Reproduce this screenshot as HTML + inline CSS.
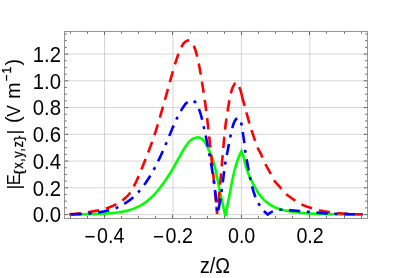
<!DOCTYPE html>
<html><head><meta charset="utf-8"><title>plot</title>
<style>html,body{margin:0;padding:0;background:#fff;}body{width:398px;height:278px;overflow:hidden;font-family:"Liberation Sans",sans-serif;}svg{display:block;will-change:transform;}</style>
</head><body>
<svg width="398" height="278" viewBox="0 0 398 278"><rect width="398" height="278" fill="#fff"/><path d="M104.52 31.4V218.4M172.97 31.4V218.4M241.42 31.4V218.4M309.87 31.4V218.4M64.55 214.56H367.4M64.55 187.81H367.4M64.55 161.06H367.4M64.55 134.30H367.4M64.55 107.55H367.4M64.55 80.80H367.4M64.55 54.05H367.4" stroke="#c4c4c4" stroke-width="0.7" fill="none"/><g fill="none" stroke-width="2.6" stroke-linejoin="miter" stroke-linecap="butt"><path d="M69.00 214.50L71.10 214.48L73.20 214.46L75.29 214.43L77.39 214.40L79.49 214.36L81.58 214.31L83.68 214.26L85.78 214.21L87.87 214.16L89.97 214.10L92.07 214.04L94.16 213.98L96.26 213.90L98.36 213.82L100.46 213.74L102.55 213.64L104.65 213.53L106.74 213.41L108.83 213.28L110.92 213.13L113.01 212.95L115.11 212.73L117.20 212.48L119.29 212.18L121.37 211.86L123.42 211.50L125.45 211.11L127.48 210.63L129.51 210.05L131.53 209.39L133.53 208.65L135.50 207.85L137.43 206.99L139.31 206.10L141.13 205.17L142.91 204.12L144.66 202.95L146.36 201.68L148.03 200.34L149.64 198.96L151.20 197.55L152.71 196.13L154.16 194.64L155.57 193.09L156.95 191.49L158.29 189.85L159.60 188.20L160.89 186.54L162.16 184.87L163.40 183.19L164.63 181.49L165.83 179.76L167.01 178.02L168.17 176.27L169.31 174.51L170.43 172.74L171.53 170.96L172.60 169.15L173.64 167.33L174.66 165.50L175.66 163.66L176.67 161.81L177.68 159.97L178.71 158.15L179.75 156.32L180.78 154.49L181.81 152.65L182.86 150.83L183.95 149.04L185.09 147.30L186.29 145.56L187.52 143.78L188.84 142.09L190.27 140.60L191.87 139.39L193.74 138.33L195.72 137.65L197.81 137.30L199.89 137.71L201.67 138.61L203.16 140.07L204.48 141.86L205.64 143.62L206.67 145.42L207.61 147.30L208.49 149.23L209.34 151.17L210.20 153.09L211.03 155.01L211.83 156.96L212.55 158.92L213.20 160.91L213.81 162.92L214.38 164.94L214.89 166.97L215.36 169.02L215.80 171.07L216.24 173.12L216.67 175.17L217.09 177.23L217.50 179.29L217.91 181.34L218.32 183.40L218.73 185.46L219.15 187.51L219.58 189.56L220.01 191.62L220.46 193.67L220.90 195.72L221.35 197.76L221.80 199.81L222.25 201.86L222.70 203.91L223.15 205.96L223.60 208.01L224.05 210.06L224.50 212.10L224.95 214.15L225.40 216.20L225.50 215.64L225.61 215.09L225.71 214.53L225.81 213.97L225.92 213.42L226.02 212.86L226.13 212.31L226.23 211.75L226.34 211.19L226.44 210.64L226.55 210.08L226.65 209.52L226.76 208.97L226.86 208.41L226.97 207.86L227.07 207.30L227.18 206.74L227.29 206.19L227.39 205.63L227.50 205.08L227.61 204.52L227.71 203.97L227.82 203.41L227.93 202.85L228.03 202.30L228.14 201.74L228.25 201.19L228.36 200.63L228.46 200.08L228.57 199.52L228.68 198.96L228.79 198.41L228.90 197.85L229.01 197.30L229.12 196.74L229.23 196.19L229.33 195.63L229.44 195.08L229.55 194.52L229.66 193.97L229.77 193.41L229.88 192.85L229.98 192.30L230.09 191.74L230.20 191.19L230.30 190.63L230.41 190.07L230.51 189.52L230.62 188.96L230.73 188.40L230.83 187.85L230.94 187.29L231.05 186.73L231.15 186.18L231.26 185.62L231.37 185.06L231.47 184.51L231.58 183.95L231.69 183.40L231.80 182.84L231.91 182.29L232.02 181.73L232.14 181.18L232.25 180.62L232.36 180.07L232.48 179.51L232.59 178.96L232.71 178.40L232.83 177.85L232.95 177.30L233.07 176.75L233.19 176.19L233.31 175.64L233.44 175.09L233.56 174.54L233.69 173.99L233.82 173.44L233.95 172.89L234.09 172.34L234.22 171.79L234.36 171.24L234.50 170.70L234.63 170.15L234.78 169.60L234.92 169.05L235.06 168.50L235.21 167.95L235.36 167.40L235.51 166.86L235.66 166.31L235.82 165.76L235.97 165.22L236.13 164.67L236.29 164.13L236.46 163.59L236.63 163.05L236.80 162.51L236.97 161.97L237.14 161.43L237.32 160.90L237.50 160.36L237.68 159.83L237.87 159.30L238.06 158.77L238.26 158.24L238.47 157.72L238.67 157.19L238.89 156.67L239.11 156.15L239.33 155.63L239.56 155.11L239.79 154.59L240.02 154.07L240.26 153.56L240.50 153.04L240.75 152.53L241.00 152.02L241.25 151.51L241.50 151.00L241.97 152.23L242.42 153.46L242.85 154.70L243.26 155.94L243.63 157.19L243.96 158.46L244.26 159.73L244.55 161.01L244.83 162.30L245.13 163.57L245.47 164.84L245.82 166.10L246.19 167.35L246.58 168.61L246.99 169.86L247.41 171.10L247.85 172.33L248.31 173.55L248.80 174.77L249.31 175.98L249.83 177.18L250.37 178.37L250.92 179.56L251.50 180.74L252.08 181.91L252.68 183.08L253.29 184.24L253.91 185.39L254.55 186.53L255.20 187.68L255.84 188.82L256.49 189.97L257.15 191.11L257.84 192.22L258.55 193.31L259.30 194.37L260.08 195.42L260.90 196.45L261.75 197.47L262.63 198.46L263.54 199.41L264.47 200.33L265.43 201.19L266.42 202.03L267.46 202.84L268.52 203.63L269.62 204.38L270.73 205.09L271.86 205.75L273.01 206.36L274.18 206.93L275.37 207.47L276.60 207.98L277.83 208.44L279.08 208.87L280.33 209.23L281.58 209.57L282.84 209.89L284.11 210.20L285.39 210.49L286.68 210.77L287.97 211.03L289.26 211.28L290.56 211.51L291.86 211.72L293.16 211.91L294.46 212.09L295.75 212.25L297.05 212.41L298.35 212.55L299.65 212.69L300.96 212.82L302.26 212.94L303.57 213.06L304.88 213.16L306.19 213.26L307.50 213.35L308.80 213.43L310.11 213.51L311.42 213.57L312.73 213.64L314.03 213.70L315.34 213.76L316.65 213.82L317.96 213.87L319.27 213.93L320.58 213.97L321.89 214.02L323.20 214.06L324.51 214.10L325.82 214.13L327.13 214.16L328.44 214.19L329.75 214.21L331.06 214.23L332.37 214.25L333.68 214.26L334.99 214.28L336.30 214.30L337.61 214.32L338.92 214.34L340.23 214.35L341.54 214.37L342.85 214.38L344.16 214.40L345.47 214.41L346.78 214.42L348.09 214.43L349.40 214.44L350.71 214.45L352.02 214.46L353.33 214.47L354.64 214.48L355.95 214.49L357.26 214.49L358.57 214.49L359.88 214.50L361.19 214.50L362.50 214.50" stroke="#00ff00"/><path d="M69.00 214.10L71.06 214.04L73.12 213.94L75.17 213.80L77.23 213.64L79.27 213.47L81.31 213.26L83.35 213.00L85.39 212.68L87.42 212.33L89.45 211.97L91.48 211.61L93.51 211.26L95.54 210.90L97.57 210.52L99.59 210.11L101.59 209.65L103.57 209.15L105.55 208.57L107.52 207.93L109.48 207.21L111.41 206.44L113.29 205.61L115.13 204.74L116.92 203.80L118.72 202.77L120.50 201.65L122.25 200.45L123.93 199.18L125.53 197.84L127.02 196.45L128.36 195.02L129.59 193.46L130.74 191.78L131.82 190.00L132.85 188.15L133.83 186.29L134.77 184.44L135.70 182.61L136.58 180.76L137.44 178.90L138.27 177.01L139.07 175.11L139.86 173.21L140.64 171.29L141.42 169.38L142.20 167.47L142.98 165.57L143.76 163.67L144.53 161.76L145.29 159.85L146.05 157.93L146.80 156.01L147.54 154.09L148.27 152.17L149.00 150.25L149.71 148.32L150.43 146.39L151.14 144.46L151.84 142.52L152.54 140.58L153.22 138.64L153.90 136.70L154.56 134.75L155.20 132.80L155.83 130.84L156.45 128.88L157.06 126.91L157.66 124.94L158.25 122.97L158.83 121.00L159.41 119.02L159.98 117.04L160.55 115.07L161.12 113.09L161.69 111.11L162.26 109.13L162.83 107.15L163.40 105.18L163.96 103.20L164.52 101.22L165.08 99.24L165.63 97.25L166.19 95.27L166.74 93.29L167.29 91.31L167.85 89.33L168.40 87.34L168.95 85.36L169.49 83.37L170.03 81.39L170.58 79.40L171.13 77.42L171.69 75.44L172.25 73.46L172.83 71.49L173.42 69.51L174.00 67.54L174.59 65.56L175.18 63.59L175.80 61.62L176.43 59.66L177.08 57.72L177.76 55.78L178.47 53.84L179.19 51.90L179.97 49.97L180.82 48.10L181.76 46.31L182.86 44.48L184.12 42.77L185.58 41.48L187.48 40.47L189.42 40.53L191.27 41.71L192.51 43.11L193.48 44.92L194.30 46.95L195.02 48.95L195.67 50.88L196.26 52.86L196.80 54.85L197.30 56.86L197.77 58.86L198.21 60.87L198.62 62.88L199.01 64.91L199.39 66.93L199.76 68.96L200.12 70.98L200.48 73.01L200.84 75.04L201.18 77.06L201.52 79.09L201.85 81.13L202.18 83.16L202.50 85.19L202.82 87.22L203.14 89.26L203.45 91.29L203.76 93.32L204.07 95.36L204.37 97.40L204.67 99.43L204.96 101.47L205.25 103.51L205.53 105.55L205.80 107.58L206.06 109.63L206.32 111.67L206.57 113.71L206.82 115.75L207.07 117.80L207.31 119.84L207.55 121.88L207.78 123.93L208.02 125.97L208.25 128.02L208.48 130.06L208.70 132.11L208.92 134.15L209.14 136.20L209.36 138.25L209.57 140.29L209.79 142.34L210.00 144.39L210.22 146.43L210.44 148.48L210.66 150.53L210.88 152.57L211.10 154.62L211.33 156.66L211.55 158.71L211.78 160.75L212.00 162.80L212.23 164.84L212.45 166.89L212.68 168.94L212.90 170.98L213.12 173.03L213.33 175.07L213.55 177.12L213.77 179.17L213.98 181.21L214.20 183.26L214.41 185.31L214.63 187.35L214.84 189.40L215.05 191.45L215.25 193.50L215.45 195.54L215.64 197.59L215.83 199.64L216.01 201.69L216.19 203.74L216.36 205.79L216.53 207.84L216.69 209.90L216.85 211.95L217.00 214.00L217.22 212.32L217.43 210.63L217.64 208.95L217.85 207.27L218.05 205.58L218.25 203.90L218.44 202.21L218.62 200.52L218.80 198.84L218.98 197.15L219.14 195.46L219.30 193.77L219.46 192.09L219.61 190.40L219.76 188.71L219.90 187.02L220.05 185.32L220.19 183.63L220.33 181.94L220.48 180.25L220.62 178.56L220.77 176.87L220.92 175.18L221.07 173.49L221.22 171.80L221.37 170.11L221.51 168.42L221.66 166.73L221.81 165.04L221.96 163.35L222.11 161.66L222.26 159.97L222.41 158.28L222.56 156.59L222.71 154.90L222.86 153.21L223.01 151.52L223.15 149.83L223.30 148.14L223.44 146.45L223.59 144.76L223.73 143.07L223.88 141.38L224.03 139.69L224.18 138.00L224.34 136.31L224.50 134.62L224.67 132.93L224.85 131.25L225.03 129.56L225.21 127.88L225.41 126.19L225.62 124.51L225.84 122.83L226.07 121.15L226.31 119.47L226.56 117.79L226.81 116.11L227.07 114.43L227.33 112.75L227.59 111.08L227.86 109.40L228.12 107.73L228.39 106.05L228.67 104.37L228.95 102.70L229.25 101.03L229.57 99.36L229.90 97.70L230.26 96.05L230.63 94.37L231.02 92.69L231.45 91.02L231.94 89.40L232.51 87.84L233.25 86.23L234.25 84.44L235.36 83.15L236.46 83.04L237.68 84.26L238.76 85.94L239.47 87.41L240.07 88.94L240.58 90.53L241.04 92.19L241.45 93.87L241.86 95.57L242.26 97.26L242.70 98.92L243.15 100.56L243.61 102.19L244.06 103.83L244.50 105.47L244.94 107.10L245.39 108.74L245.83 110.38L246.27 112.02L246.72 113.65L247.17 115.29L247.62 116.93L248.06 118.57L248.51 120.20L248.96 121.84L249.42 123.47L249.89 125.10L250.38 126.72L250.88 128.34L251.40 129.95L251.94 131.56L252.49 133.17L253.04 134.78L253.60 136.38L254.15 137.98L254.70 139.59L255.23 141.20L255.76 142.82L256.31 144.43L256.90 146.01L257.57 147.56L258.32 149.08L259.12 150.58L259.93 152.08L260.71 153.59L261.42 155.12L262.09 156.69L262.73 158.26L263.38 159.83L264.05 161.39L264.76 162.92L265.52 164.43L266.33 165.92L267.16 167.40L268.01 168.87L268.86 170.35L269.69 171.83L270.50 173.32L271.26 174.84L271.97 176.40L272.69 177.94L273.49 179.42L274.41 180.80L275.45 182.13L276.56 183.42L277.72 184.69L278.87 185.96L280.00 187.23L281.10 188.54L282.19 189.85L283.31 191.14L284.46 192.38L285.66 193.55L286.92 194.65L288.24 195.71L289.60 196.74L290.99 197.73L292.39 198.71L293.80 199.66L295.21 200.61L296.62 201.55L298.06 202.47L299.52 203.33L301.02 204.11L302.55 204.83L304.10 205.51L305.68 206.16L307.27 206.77L308.88 207.33L310.48 207.85L312.10 208.35L313.73 208.84L315.36 209.30L317.01 209.74L318.66 210.16L320.32 210.54L321.98 210.88L323.64 211.19L325.31 211.47L326.98 211.74L328.66 212.01L330.34 212.26L332.02 212.49L333.71 212.72L335.39 212.92L337.09 213.11L338.78 213.28L340.47 213.42L342.16 213.54L343.85 213.64L345.54 213.73L347.23 213.82L348.92 213.91L350.62 213.99L352.31 214.07L354.01 214.13L355.70 214.19L357.40 214.24L359.10 214.27L360.80 214.29L362.50 214.30" stroke="#ff0000" stroke-dasharray="0.00 0.61 11.30 7.10 11.30 7.10 11.30 7.10 11.30 7.10 11.30 7.10 11.30 7.10 11.30 7.10 11.30 7.10 11.30 7.10 11.30 7.10 11.30 7.10 11.30 7.10 11.30 7.10 11.30 7.10 11.30 7.10 11.30 7.10 11.30 7.10 11.30 7.10 11.30 7.10 11.30 7.10 11.30 7.10 11.30 4.24 11.30 7.10 11.30 7.10 11.30 7.10 11.30 7.10 11.30 7.10 11.30 7.10 11.30 7.10 11.30 6.00 19.80 6.60 11.30 7.10 11.30 7.10 11.30 7.10 11.30 7.10 11.30 7.10 11.30 7.10 11.30 7.10 11.30 7.10 11.30 7.10 7.12 50.00"/><path d="M69.00 214.40L70.51 214.39L72.03 214.37L73.54 214.33L75.05 214.29L76.57 214.23L78.08 214.17L79.59 214.09L81.10 214.02L82.60 213.93L84.11 213.85L85.62 213.76L87.13 213.66L88.63 213.53L90.14 213.39L91.65 213.23L93.16 213.06L94.66 212.87L96.16 212.67L97.65 212.45L99.15 212.23L100.63 212.00L102.12 211.74L103.62 211.46L105.11 211.15L106.60 210.82L108.09 210.46L109.56 210.07L111.02 209.66L112.46 209.23L113.89 208.78L115.29 208.30L116.68 207.77L118.06 207.17L119.44 206.52L120.80 205.82L122.15 205.08L123.47 204.31L124.78 203.50L126.06 202.67L127.31 201.83L128.53 200.98L129.73 200.10L130.91 199.18L132.07 198.22L133.22 197.22L134.35 196.18L135.46 195.12L136.55 194.04L137.61 192.94L138.64 191.83L139.66 190.70L140.64 189.57L141.59 188.43L142.53 187.26L143.44 186.06L144.34 184.84L145.21 183.60L146.07 182.34L146.92 181.07L147.74 179.79L148.56 178.51L149.36 177.22L150.14 175.92L150.92 174.63L151.68 173.33L152.43 172.03L153.17 170.71L153.90 169.38L154.61 168.05L155.32 166.71L156.01 165.36L156.70 164.01L157.38 162.66L158.05 161.30L158.72 159.94L159.37 158.57L160.03 157.21L160.67 155.84L161.31 154.48L161.94 153.10L162.55 151.72L163.16 150.34L163.76 148.95L164.36 147.56L164.95 146.17L165.54 144.77L166.12 143.38L166.71 141.98L167.30 140.59L167.89 139.20L168.48 137.81L169.07 136.41L169.66 135.02L170.23 133.62L170.81 132.22L171.38 130.82L171.96 129.42L172.54 128.02L173.13 126.63L173.73 125.24L174.34 123.86L174.97 122.49L175.61 121.13L176.26 119.76L176.91 118.39L177.58 117.02L178.26 115.66L178.95 114.31L179.66 112.97L180.40 111.65L181.16 110.35L181.95 109.08L182.76 107.79L183.61 106.46L184.49 105.17L185.44 103.97L186.47 102.93L187.61 102.06L188.97 101.21L190.42 100.54L191.81 100.30L193.20 100.73L194.58 101.64L195.74 102.72L196.60 103.77L197.34 105.00L198.00 106.37L198.59 107.84L199.12 109.35L199.62 110.85L200.10 112.30L200.54 113.73L200.96 115.17L201.36 116.63L201.74 118.09L202.10 119.56L202.44 121.04L202.78 122.52L203.11 124.01L203.44 125.49L203.77 126.97L204.10 128.44L204.43 129.92L204.76 131.39L205.08 132.87L205.40 134.35L205.71 135.83L206.02 137.31L206.33 138.79L206.63 140.27L206.93 141.75L207.23 143.23L207.52 144.72L207.82 146.20L208.11 147.68L208.39 149.17L208.68 150.65L208.96 152.14L209.24 153.62L209.52 155.11L209.80 156.60L210.08 158.08L210.36 159.57L210.63 161.06L210.90 162.55L211.17 164.03L211.43 165.52L211.68 167.01L211.93 168.51L212.18 170.00L212.41 171.49L212.64 172.98L212.87 174.48L213.09 175.97L213.30 177.47L213.51 178.97L213.72 180.46L213.92 181.96L214.12 183.46L214.32 184.96L214.51 186.46L214.70 187.96L214.89 189.46L215.07 190.96L215.26 192.46L215.44 193.96L215.62 195.47L215.80 196.97L215.97 198.47L216.15 199.97L216.32 201.47L216.49 202.97L216.65 204.48L216.82 205.98L216.98 207.48L217.14 208.99L217.29 210.49L217.45 212.00L217.60 213.50L217.82 212.51L218.04 211.51L218.25 210.52L218.46 209.53L218.67 208.53L218.88 207.53L219.08 206.54L219.27 205.54L219.46 204.54L219.65 203.55L219.83 202.55L220.01 201.55L220.18 200.55L220.34 199.54L220.50 198.54L220.66 197.54L220.81 196.54L220.96 195.53L221.10 194.52L221.24 193.52L221.38 192.51L221.52 191.51L221.66 190.50L221.79 189.49L221.92 188.48L222.06 187.48L222.19 186.47L222.33 185.46L222.46 184.45L222.60 183.45L222.74 182.44L222.87 181.43L223.01 180.43L223.14 179.42L223.27 178.41L223.40 177.40L223.52 176.39L223.65 175.38L223.78 174.38L223.91 173.37L224.03 172.36L224.16 171.35L224.29 170.34L224.43 169.34L224.56 168.33L224.70 167.32L224.84 166.32L224.99 165.31L225.14 164.31L225.29 163.31L225.45 162.30L225.61 161.30L225.79 160.30L225.97 159.30L226.15 158.30L226.34 157.31L226.54 156.31L226.73 155.31L226.93 154.32L227.14 153.32L227.34 152.32L227.54 151.33L227.75 150.33L227.95 149.34L228.15 148.34L228.34 147.34L228.53 146.34L228.72 145.35L228.91 144.35L229.09 143.35L229.27 142.35L229.46 141.35L229.64 140.35L229.83 139.35L230.03 138.36L230.22 137.36L230.42 136.36L230.62 135.36L230.82 134.36L231.03 133.37L231.24 132.38L231.46 131.39L231.70 130.40L231.95 129.42L232.20 128.42L232.46 127.43L232.73 126.43L233.02 125.45L233.33 124.47L233.67 123.52L234.04 122.59L234.45 121.69L234.93 120.74L235.50 119.83L236.16 119.08L236.94 118.53L237.95 118.09L238.83 118.08L239.64 118.77L240.26 119.71L240.62 120.59L240.89 121.58L241.12 122.61L241.33 123.62L241.52 124.61L241.70 125.61L241.87 126.62L242.03 127.62L242.19 128.63L242.34 129.63L242.50 130.63L242.66 131.64L242.82 132.64L242.98 133.65L243.14 134.65L243.29 135.65L243.45 136.66L243.60 137.66L243.75 138.67L243.89 139.67L244.03 140.68L244.17 141.69L244.30 142.69L244.42 143.70L244.54 144.71L244.65 145.72L244.75 146.73L244.86 147.74L244.97 148.75L245.09 149.76L245.22 150.77L245.36 151.77L245.52 152.78L245.67 153.78L245.84 154.78L246.01 155.79L246.18 156.79L246.35 157.79L246.52 158.79L246.70 159.79L246.88 160.79L247.06 161.79L247.24 162.79L247.42 163.79L247.61 164.79L247.80 165.79L247.99 166.78L248.18 167.78L248.37 168.78L248.56 169.78L248.76 170.78L248.95 171.77L249.14 172.77L249.33 173.77L249.52 174.77L249.71 175.77L249.90 176.77L250.09 177.77L250.28 178.76L250.48 179.76L250.69 180.76L250.90 181.75L251.12 182.74L251.34 183.73L251.58 184.72L251.83 185.70L252.09 186.68L252.36 187.66L252.64 188.64L252.93 189.61L253.23 190.58L253.54 191.55L253.85 192.52L254.16 193.49L254.47 194.46L254.79 195.42L255.12 196.39L255.47 197.35L255.83 198.29L256.22 199.22L256.64 200.14L257.10 201.05L257.59 201.94L258.10 202.83L258.63 203.70L259.17 204.56L259.73 205.40L260.30 206.24L260.89 207.07L261.50 207.89L262.13 208.69L262.77 209.49L263.42 210.26L264.09 211.02L264.77 211.77L265.48 212.50L266.20 213.21L266.94 213.91L267.70 214.60L268.08 214.28L268.47 213.98L268.86 213.68L269.26 213.40L269.66 213.12L270.07 212.85L270.48 212.60L270.89 212.36L271.31 212.13L271.74 211.91L272.17 211.70L272.60 211.50L273.03 211.31L273.48 211.13L273.93 210.95L274.39 210.78L274.85 210.62L275.32 210.47L275.79 210.35L276.26 210.24L276.72 210.16L277.20 210.08L277.68 210.01L278.16 209.94L278.64 209.89L279.12 209.84L279.61 209.81L280.09 209.80L280.57 209.80L281.05 209.81L281.53 209.82L282.01 209.83L282.50 209.85L282.98 209.87L283.46 209.89L283.94 209.91L284.43 209.94L284.91 209.97L285.39 209.99L285.87 210.03L286.36 210.06L286.84 210.09L287.32 210.12L287.81 210.16L288.29 210.19L288.77 210.22L289.25 210.25L289.73 210.28L290.22 210.31L290.70 210.34L291.18 210.38L291.66 210.41L292.14 210.44L292.62 210.48L293.11 210.51L293.59 210.55L294.07 210.59L294.55 210.63L295.03 210.67L295.51 210.71L295.99 210.75L296.47 210.79L296.95 210.83L297.44 210.87L297.92 210.91L298.40 210.96L298.88 211.00L299.36 211.04L299.84 211.09L300.32 211.13L300.80 211.18L301.28 211.22L301.76 211.27L302.25 211.31L302.73 211.36L303.21 211.40L303.69 211.45L304.17 211.49L304.65 211.54L305.13 211.58L305.61 211.62L306.09 211.67L306.57 211.71L307.05 211.75L307.54 211.80L308.02 211.84L308.50 211.88L308.98 211.92L309.46 211.96L309.94 212.00L310.42 212.04L310.90 212.08L311.39 212.13L311.87 212.17L312.35 212.21L312.83 212.25L313.31 212.29L313.79 212.34L314.27 212.38L314.75 212.42L315.23 212.47L315.72 212.51L316.20 212.56L316.68 212.60L317.16 212.64L317.64 212.69L318.12 212.73L318.60 212.77L319.08 212.82L319.56 212.86L320.05 212.90L320.53 212.94L321.01 212.98L321.49 213.02L321.97 213.06L322.45 213.10L322.93 213.14L323.41 213.18L323.90 213.22L324.38 213.25L324.86 213.29L325.34 213.32L325.82 213.36L326.30 213.39L326.79 213.42L327.27 213.45L327.75 213.48L328.23 213.51L328.71 213.54L329.19 213.56L329.68 213.58L330.16 213.61L330.64 213.63L331.12 213.65L331.60 213.67L332.09 213.69L332.57 213.71L333.05 213.73L333.53 213.75L334.02 213.77L334.50 213.79L334.98 213.81L335.46 213.82L335.95 213.84L336.43 213.86L336.91 213.87L337.39 213.89L337.88 213.91L338.36 213.92L338.84 213.94L339.33 213.95L339.81 213.97L340.29 213.98L340.77 213.99L341.26 214.01L341.74 214.02L342.22 214.03L342.71 214.04L343.19 214.06L343.67 214.07L344.15 214.08L344.64 214.09L345.12 214.10L345.60 214.11L346.08 214.12L346.57 214.14L347.05 214.15L347.53 214.16L348.02 214.17L348.50 214.18L348.98 214.19L349.46 214.20L349.95 214.21L350.43 214.22L350.91 214.23L351.39 214.24L351.88 214.25L352.36 214.26L352.84 214.26L353.33 214.27L353.81 214.28L354.29 214.29L354.77 214.30L355.26 214.31L355.74 214.32L356.22 214.32L356.71 214.33L357.19 214.34L357.67 214.34L358.15 214.35L358.64 214.36L359.12 214.36L359.60 214.37L360.09 214.38L360.57 214.38L361.05 214.39L361.53 214.39L362.02 214.40L362.50 214.40" stroke="#0000ff" stroke-dasharray="0.00 1.66 11.30 6.65 3.00 6.65 11.30 6.65 3.00 6.65 11.30 6.65 3.00 6.65 11.30 6.65 3.00 6.65 11.30 6.65 3.00 6.65 11.30 6.65 3.00 6.65 11.30 6.65 3.00 6.65 11.30 6.65 3.00 6.65 11.30 6.65 3.00 6.65 11.30 6.65 3.00 6.65 11.30 6.65 3.00 6.65 11.30 6.65 3.00 6.65 11.30 6.65 3.00 6.65 11.30 6.65 3.00 6.65 11.30 6.65 3.00 6.65 11.30 6.65 3.00 6.65 11.30 6.65 3.00 6.65 11.30 6.65 3.00 6.65 11.30 6.65 3.00 6.65 11.30 6.65 3.00 6.65 11.30 6.65 3.00 6.65 11.30 6.65 0.58 50.00"/></g><path d="M70.50 218.4v-2.3M70.50 31.4v2.3M87.50 218.4v-2.3M87.50 31.4v2.3M104.50 218.4v-3.6M104.50 31.4v3.6M121.50 218.4v-2.3M121.50 31.4v2.3M138.50 218.4v-2.3M138.50 31.4v2.3M155.50 218.4v-2.3M155.50 31.4v2.3M172.50 218.4v-3.6M172.50 31.4v3.6M190.50 218.4v-2.3M190.50 31.4v2.3M207.50 218.4v-2.3M207.50 31.4v2.3M224.50 218.4v-2.3M224.50 31.4v2.3M241.50 218.4v-3.6M241.50 31.4v3.6M258.50 218.4v-2.3M258.50 31.4v2.3M275.50 218.4v-2.3M275.50 31.4v2.3M292.50 218.4v-2.3M292.50 31.4v2.3M309.50 218.4v-3.6M309.50 31.4v3.6M326.50 218.4v-2.3M326.50 31.4v2.3M344.50 218.4v-2.3M344.50 31.4v2.3M361.50 218.4v-2.3M361.50 31.4v2.3M64.55 214.56h3.6M367.4 214.56h-3.6M64.55 207.87h2.3M367.4 207.87h-2.3M64.55 201.18h2.3M367.4 201.18h-2.3M64.55 194.50h2.3M367.4 194.50h-2.3M64.55 187.81h3.6M367.4 187.81h-3.6M64.55 181.12h2.3M367.4 181.12h-2.3M64.55 174.43h2.3M367.4 174.43h-2.3M64.55 167.74h2.3M367.4 167.74h-2.3M64.55 161.06h3.6M367.4 161.06h-3.6M64.55 154.37h2.3M367.4 154.37h-2.3M64.55 147.68h2.3M367.4 147.68h-2.3M64.55 140.99h2.3M367.4 140.99h-2.3M64.55 134.30h3.6M367.4 134.30h-3.6M64.55 127.62h2.3M367.4 127.62h-2.3M64.55 120.93h2.3M367.4 120.93h-2.3M64.55 114.24h2.3M367.4 114.24h-2.3M64.55 107.55h3.6M367.4 107.55h-3.6M64.55 100.86h2.3M367.4 100.86h-2.3M64.55 94.18h2.3M367.4 94.18h-2.3M64.55 87.49h2.3M367.4 87.49h-2.3M64.55 80.80h3.6M367.4 80.80h-3.6M64.55 74.11h2.3M367.4 74.11h-2.3M64.55 67.42h2.3M367.4 67.42h-2.3M64.55 60.74h2.3M367.4 60.74h-2.3M64.55 54.05h3.6M367.4 54.05h-3.6M64.55 47.36h2.3M367.4 47.36h-2.3M64.55 40.67h2.3M367.4 40.67h-2.3M64.55 33.98h2.3M367.4 33.98h-2.3" stroke="#484848" stroke-width="0.8" fill="none"/><rect x="64.55" y="31.4" width="302.84999999999997" height="187.0" fill="none" stroke="#7c7c7c" stroke-width="0.8"/><g font-family="Liberation Sans, sans-serif" fill="#000"><text transform="translate(61.0,222.46) scale(0.925,1)" font-size="22" text-anchor="end">0.0</text><text transform="translate(61.0,195.71) scale(0.925,1)" font-size="22" text-anchor="end">0.2</text><text transform="translate(61.0,168.96) scale(0.925,1)" font-size="22" text-anchor="end">0.4</text><text transform="translate(61.0,142.20) scale(0.925,1)" font-size="22" text-anchor="end">0.6</text><text transform="translate(61.0,115.45) scale(0.925,1)" font-size="22" text-anchor="end">0.8</text><text transform="translate(61.0,88.70) scale(0.925,1)" font-size="22" text-anchor="end">1.0</text><text transform="translate(61.0,61.95) scale(0.925,1)" font-size="22" text-anchor="end">1.2</text><text transform="translate(97.12,242.6) scale(0.895,1)" font-size="22">0.4</text><text transform="translate(95.62,244.0) scale(0.859,1)" font-size="22" text-anchor="end">−</text><text transform="translate(165.57,242.6) scale(0.895,1)" font-size="22">0.2</text><text transform="translate(164.07,244.0) scale(0.859,1)" font-size="22" text-anchor="end">−</text><text transform="translate(241.62,242.6) scale(0.895,1)" font-size="22" text-anchor="middle">0.0</text><text transform="translate(310.07,242.6) scale(0.895,1)" font-size="22" text-anchor="middle">0.2</text><text transform="translate(215.0,273.4) scale(0.895,1)" font-size="22" text-anchor="middle">z/Ω</text><text transform="rotate(-90) translate(-189.4,19.9) scale(1,1)" font-size="18.5" letter-spacing="0">|</text><text transform="rotate(-90) translate(-185.0,19.8) scale(0.85,1)" font-size="19" letter-spacing="0">E</text><text transform="rotate(-90) translate(-174.65,22.9) scale(1.1,1)" font-size="13.5" letter-spacing="0" stroke="#000" stroke-width="0.35">{</text><text transform="rotate(-90) translate(-168.6,23.0) scale(0.84,1)" font-size="14.5" letter-spacing="0.98" stroke="#000" stroke-width="0.35">x,y,z</text><text transform="rotate(-90) translate(-140.75,22.9) scale(1.1,1)" font-size="13.5" letter-spacing="0" stroke="#000" stroke-width="0.35">}</text><text transform="rotate(-90) translate(-134.6,19.9) scale(1,1)" font-size="18.5" letter-spacing="0">|</text><text transform="rotate(-90) translate(-122.9,19.7) scale(1,1)" font-size="19.6" letter-spacing="0">(</text><text transform="rotate(-90) translate(-116.8,19.8) scale(0.91,1)" font-size="19" letter-spacing="0">V</text><text transform="rotate(-90) translate(-98.8,19.8) scale(0.95,1)" font-size="20.5" letter-spacing="0">m</text><text transform="rotate(-90) translate(-81.3,10.7) scale(0.89,1)" font-size="13" letter-spacing="0" stroke="#000" stroke-width="0.35">−</text><text transform="rotate(-90) translate(-73.4,10.7) scale(0.93,1)" font-size="13" letter-spacing="0" stroke="#000" stroke-width="0.35">1</text><text transform="rotate(-90) translate(-65.4,19.7) scale(1,1)" font-size="19.6" letter-spacing="0">)</text></g></svg>
</body></html>
